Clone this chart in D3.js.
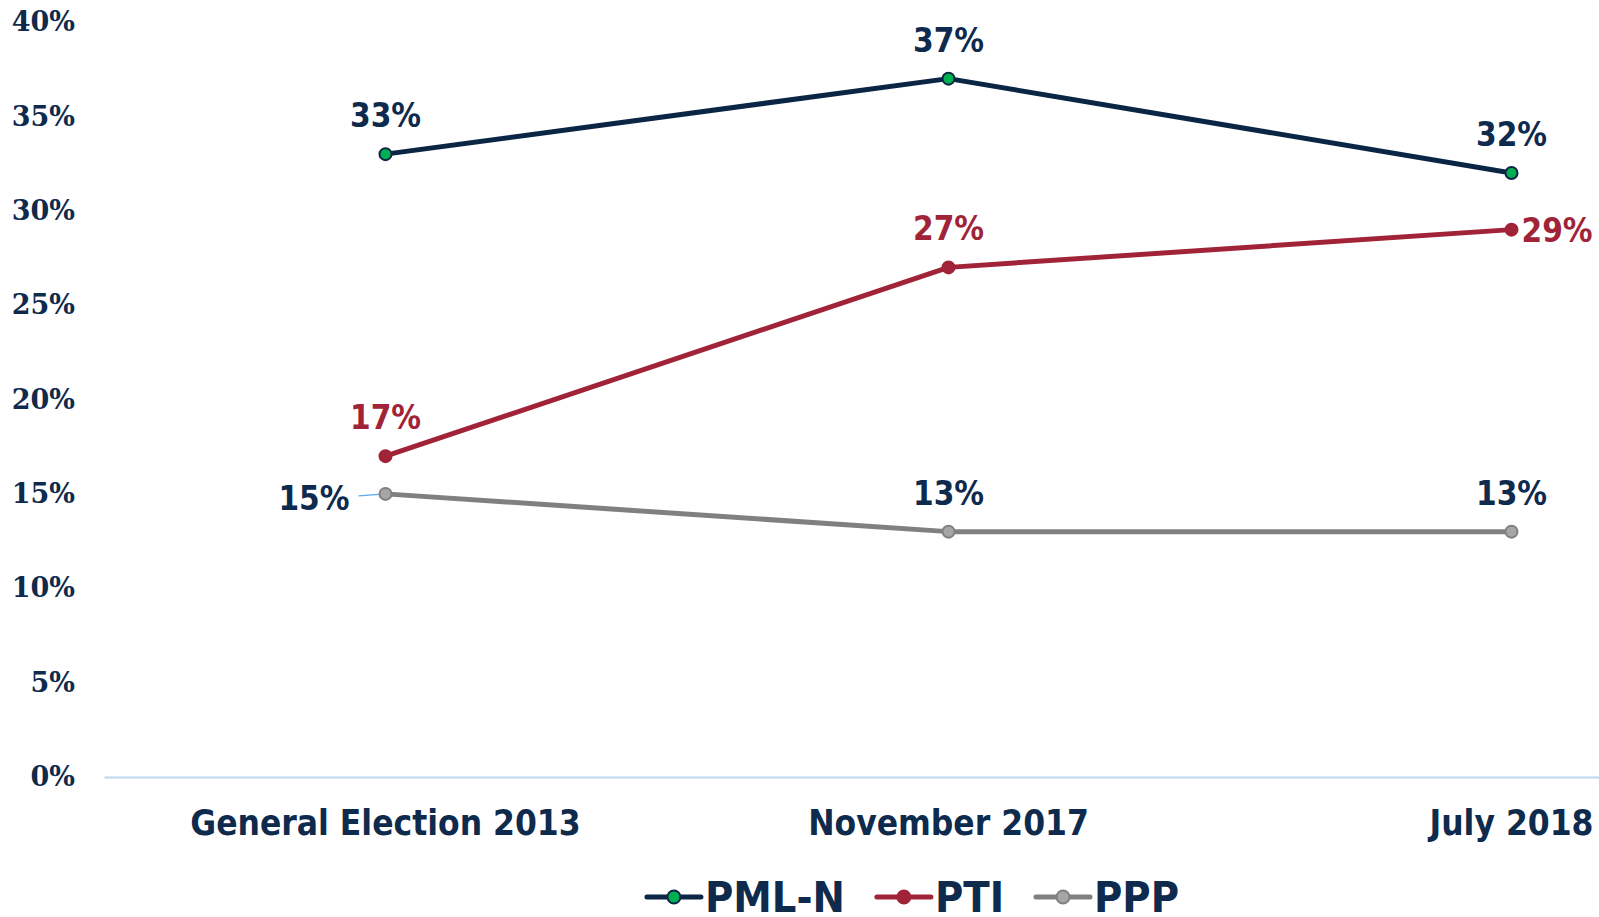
<!DOCTYPE html>
<html>
<head>
<meta charset="utf-8">
<script src="https://cdn.jsdelivr.net/npm/d3@7"></script>
<style>
  html, body { margin: 0; padding: 0; background: #fff; overflow: hidden; }
  .sans { font-family: "DejaVu Sans Condensed", "DejaVu Sans", sans-serif; font-weight: bold; }
  .serif { font-family: "DejaVu Serif", "Liberation Serif", serif; font-weight: bold; }
</style>
</head>
<body>
<svg id="chart" width="1599" height="917"></svg>
<script>
// data
var categories = ["General Election 2013", "November 2017", "July 2018"];
var parties = ["PML-N", "PTI", "PPP"];
var pmlnValues = [0.33, 0.37, 0.32];
var ptiValues = [0.17, 0.27, 0.29];
var pppValues = [0.15, 0.13, 0.13];
var yTicks = [0, 0.05, 0.10, 0.15, 0.20, 0.25, 0.30, 0.35, 0.40];

var navy = "#0e2a4d";
var series = [
    { name: parties[0], values: pmlnValues, line: "#0b2545", fill: "#00b050", stroke: "#0b2545", text: navy },
    { name: parties[1], values: ptiValues, line: "#a12337", fill: "#a12337", stroke: "#a12337", text: "#a12337" },
    { name: parties[2], values: pppValues, line: "#808080", fill: "#a6a6a6", stroke: "#808080", text: navy }
];
// where each label sits relative to its point (default above)
var labelSide = { "PTI-2": "right", "PPP-0": "left" };

var svg = d3.select("#chart");

var x = d3.scaleBand().domain(categories).range([104, 1793]).padding(0);
var y = d3.scaleLinear().domain([0, 0.4]).range([777, 22]);
function cx(i) { return x(categories[i]) + x.bandwidth() / 2; }

// y axis
var yAxis = svg.append("g")
    .attr("transform", "translate(75,0)")
    .call(d3.axisLeft(y).tickValues(yTicks).tickFormat(d3.format(".0%")).tickSize(0).tickPadding(0));
yAxis.select(".domain").remove();
yAxis.selectAll("text")
    .attr("class", "serif")
    .attr("fill", navy)
    .attr("font-size", 27)
    .attr("dy", "0.32em");

// x axis
var xAxis = svg.append("g")
    .attr("transform", "translate(0,777)")
    .call(d3.axisBottom(x).tickSize(0).tickSizeOuter(0).tickPadding(0));
xAxis.select(".domain").attr("stroke", "#bdd7ee").attr("stroke-width", 2);
xAxis.selectAll("text")
    .attr("class", "sans")
    .attr("fill", navy)
    .attr("font-size", 35)
    .attr("dy", 58);

// leader line for the PPP 2013 label
svg.append("line")
    .attr("x1", cx(0) - 27).attr("y1", y(pppValues[0]) + 2)
    .attr("x2", cx(0)).attr("y2", y(pppValues[0]))
    .attr("stroke", "#5aa9f0").attr("stroke-width", 1.5);

var line = d3.line().x(function(d, i) { return cx(i); }).y(function(d) { return y(d); });

series.slice().reverse().forEach(function(s) {
    var g = svg.append("g");
    g.append("path")
        .attr("d", line(s.values))
        .attr("fill", "none")
        .attr("stroke", s.line)
        .attr("stroke-width", 5)
        .attr("stroke-linejoin", "round");
    g.selectAll("circle").data(s.values).enter().append("circle")
        .attr("cx", function(d, i) { return cx(i); })
        .attr("cy", function(d) { return y(d); })
        .attr("r", 6)
        .attr("fill", s.fill)
        .attr("stroke", s.stroke)
        .attr("stroke-width", 2);
    g.selectAll("text").data(s.values).enter().append("text")
        .attr("class", "sans")
        .attr("font-size", 33)
        .attr("fill", s.text)
        .each(function(d, i) {
            var side = labelSide[s.name + "-" + i] || "above";
            var t = d3.select(this).text(d3.format(".0%")(d));
            if (side === "right") {
                t.attr("x", cx(i) + 10).attr("y", y(d)).attr("dy", "0.36em").attr("text-anchor", "start");
            } else if (side === "left") {
                t.attr("x", cx(i) - 36).attr("y", y(d) + 4).attr("dy", "0.36em").attr("text-anchor", "end");
            } else {
                t.attr("x", cx(i)).attr("y", y(d) - 39).attr("dy", "0.36em").attr("text-anchor", "middle");
            }
        });
});

// legend, laid out left to right then centred
var lg = svg.append("g");
var cursor = 0;
series.forEach(function(s) {
    var item = lg.append("g").attr("transform", "translate(" + cursor + ",0)");
    item.append("line")
        .attr("x1", 0).attr("x2", 54)
        .attr("stroke", s.line).attr("stroke-width", 5).attr("stroke-linecap", "round");
    item.append("circle")
        .attr("cx", 27).attr("r", 6.5)
        .attr("fill", s.fill).attr("stroke", s.stroke).attr("stroke-width", 2);
    var t = item.append("text")
        .attr("class", "sans")
        .attr("x", 58).attr("y", 15)
        .attr("font-size", 43)
        .attr("fill", navy)
        .text(s.name);
    cursor += 58 + t.node().getComputedTextLength() + 32;
});
var legendWidth = cursor - 32;
lg.attr("transform", "translate(" + (913 - legendWidth / 2) + ",897)");
</script>
</body>
</html>
